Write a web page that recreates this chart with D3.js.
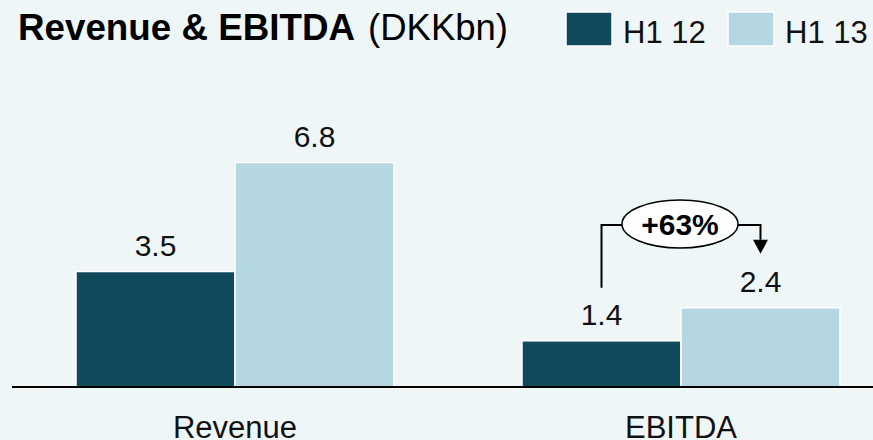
<!DOCTYPE html>
<html>
<head>
<meta charset="utf-8">
<script src="https://cdn.jsdelivr.net/npm/d3@7"></script>
<style>
  body { margin: 0; background: #EEF6F8; }
  svg { display: block; font-family: "Liberation Sans", Arial, sans-serif; }
</style>
</head>
<body>
<svg id="chart"></svg>
<script>
// data
const categories = ["Revenue", "EBITDA"];
const seriesNames = ["H1 12", "H1 13"];
const h1_12 = [3.5, 1.4];
const h1_13 = [6.8, 2.4];
const growthLabel = "+63%";

const width = 873, height = 440;
const colors = { "H1 12": "#114A5D", "H1 13": "#B5D7E1" };
const baseY = 387;

const svg = d3.select("#chart")
  .attr("width", width)
  .attr("height", height);

svg.append("rect")
  .attr("width", width)
  .attr("height", height)
  .attr("fill", "#EEF6F8");

// scales
const x0 = d3.scaleBand()
  .domain(categories)
  .range([76, 840])
  .paddingInner(0.287)
  .paddingOuter(0);
const x1 = d3.scaleBand()
  .domain(seriesNames)
  .range([0, x0.bandwidth()]);
const y = d3.scaleLinear()
  .domain([0, 8])
  .range([baseY, baseY - 264]);

const rows = categories.map((c, i) => ({
  cat: c,
  values: [
    { key: "H1 12", value: h1_12[i] },
    { key: "H1 13", value: h1_13[i] }
  ]
}));

// bars
const groups = svg.selectAll("g.group")
  .data(rows)
  .enter().append("g")
  .attr("class", "group")
  .attr("transform", d => "translate(" + x0(d.cat) + ",0)");

groups.selectAll("rect")
  .data(d => d.values)
  .enter().append("rect")
  .attr("x", d => x1(d.key))
  .attr("y", d => y(d.value))
  .attr("width", x1.bandwidth())
  .attr("height", d => y(0) - y(d.value))
  .attr("fill", d => colors[d.key])
  .attr("stroke", "#fff")
  .attr("stroke-width", 1.5);

groups.selectAll("text.val")
  .data(d => d.values)
  .enter().append("text")
  .attr("class", "val")
  .attr("x", d => x1(d.key) + x1.bandwidth() / 2)
  .attr("y", d => y(d.value) - 16)
  .attr("text-anchor", "middle")
  .attr("font-size", 30)
  .attr("fill", "#111")
  .text(d => d.value.toFixed(1));

// baseline + category axis
svg.append("line")
  .attr("x1", 12).attr("x2", width)
  .attr("y1", y(0)).attr("y2", y(0))
  .attr("stroke", "#000")
  .attr("stroke-width", 2);

const xAxis = d3.axisBottom(x0).tickSize(0);
const axisG = svg.append("g")
  .attr("transform", "translate(0," + y(0) + ")")
  .call(xAxis);
axisG.select(".domain").remove();
axisG.selectAll("text")
  .attr("y", 51)
  .attr("dy", 0)
  .attr("font-size", 31)
  .attr("font-family", "Liberation Sans, Arial, sans-serif")
  .attr("fill", "#111");

// growth annotation on EBITDA
const ax = x0("EBITDA") + x1("H1 12") + x1.bandwidth() / 2;
const bx = x0("EBITDA") + x1("H1 13") + x1.bandwidth() / 2;
const cx = x0("EBITDA") + x0.bandwidth() / 2;
const topY = 225;
const ann = svg.append("g");
ann.append("path")
  .attr("d", "M" + ax + "," + (y(h1_12[1]) - 53) + "V" + topY + "H" + bx + "V" + (y(h1_13[1]) - 68))
  .attr("fill", "none")
  .attr("stroke", "#000")
  .attr("stroke-width", 2);
ann.append("path")
  .attr("d", "M" + (bx - 7.5) + "," + (y(h1_13[1]) - 68) + "L" + (bx + 7.5) + "," + (y(h1_13[1]) - 68) + "L" + bx + "," + (y(h1_13[1]) - 54) + "Z")
  .attr("fill", "#000");
ann.append("ellipse")
  .attr("cx", cx - 1)
  .attr("cy", topY - 1)
  .attr("rx", 58)
  .attr("ry", 24)
  .attr("fill", "#fff")
  .attr("stroke", "#000")
  .attr("stroke-width", 1.5);
ann.append("text")
  .attr("x", cx - 1)
  .attr("y", 235)
  .attr("text-anchor", "middle")
  .attr("font-size", 30)
  .attr("font-weight", "bold")
  .attr("fill", "#000")
  .text(growthLabel);

// title (stretched a bit wider, like the reference)
svg.append("text")
  .attr("x", 18)
  .attr("y", 40)
  .attr("font-size", 36)
  .attr("font-weight", "bold")
  .attr("textLength", 337)
  .attr("lengthAdjust", "spacingAndGlyphs")
  .attr("fill", "#000")
  .text("Revenue & EBITDA");
svg.append("text")
  .attr("x", 368)
  .attr("y", 40)
  .attr("font-size", 36)
  .attr("textLength", 140)
  .attr("lengthAdjust", "spacingAndGlyphs")
  .attr("fill", "#000")
  .text("(DKKbn)");

// legend
const legendX = [566, 728];
const legend = svg.selectAll("g.legend")
  .data(seriesNames)
  .enter().append("g")
  .attr("class", "legend")
  .attr("transform", (d, i) => "translate(" + legendX[i] + ",12)");
legend.append("rect")
  .attr("width", 46)
  .attr("height", 34)
  .attr("fill", d => colors[d])
  .attr("stroke", "#fff")
  .attr("stroke-width", 1.5);
legend.append("text")
  .attr("x", 57)
  .attr("y", 31)
  .attr("font-size", 31)
  .attr("fill", "#111")
  .text(d => d);
</script>
</body>
</html>
